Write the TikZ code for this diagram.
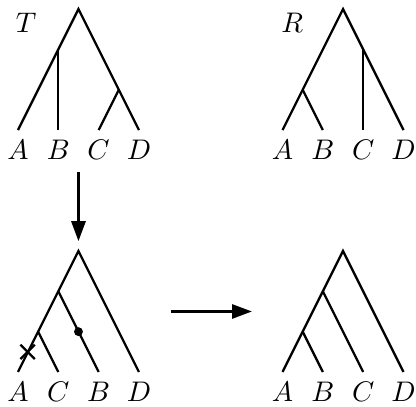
\documentclass[tikz,border=0pt]{standalone}
\usepackage{amsmath, amssymb}
\usetikzlibrary{arrows.meta, shapes.misc}

\begin{document}
\begin{tikzpicture}[line width=0.8pt,
  leaf/.style={below},
  arr/.style={-{Triangle[length=7pt,width=5pt]}}]
\useasboundingbox (-0.223,1.612) rectangle (4.935,-3.422);
%The tree T, top left, with B and the cherry CD
% hanging off the two long edges from the root
\begin{scope}[name prefix=t-]
\coordinate (r) at (0.75,1.5);
\coordinate (ab) at (0.5,1);
\coordinate (cd) at (1.25,0.5);
\node[leaf] (a) at (0,0) {$A$};
\node[leaf] (b) at (0.5,0) {$B$};
\node[leaf] (c) at (1,0) {$C$};
\node[leaf] (d) at (1.5,0) {$D$};
\node (name) at (0.1,1.33) {$T$};
\draw (a.north) -- (r) -- (d.north);
\draw (b.north) -- (ab);
\draw (c.north) -- (cd);
\end{scope}
%The tree R, top right
\begin{scope}[xshift=3.28cm, name prefix=r-]
\coordinate (r) at (0.75,1.5);
\coordinate (ab) at (0.25,0.5);
\coordinate (cd) at (1,1);
\node[leaf] (a) at (0,0) {$A$};
\node[leaf] (b) at (0.5,0) {$B$};
\node[leaf] (c) at (1,0) {$C$};
\node[leaf] (d) at (1.5,0) {$D$};
\node (name) at (0.12,1.33) {$R$};
\draw (a.north) -- (r) -- (d.north);
\draw (b.north) -- (ab);
\draw (c.north) -- (cd);
\end{scope}
%The caterpillar A C B D, bottom left,
% with the cut on A and the point on B
\begin{scope}[yshift=-3cm, name prefix=l-]
\coordinate (r) at (0.75,1.5);
\coordinate (ac) at (0.25,0.5);
\coordinate (acb) at (0.5,1);
\node[leaf] (a) at (0,0) {$A$};
\node[leaf] (c) at (0.5,0) {$C$};
\node[leaf] (b) at (1,0) {$B$};
\node[leaf] (d) at (1.5,0) {$D$};
\draw (a.north) -- (r) -- (d.north);
\draw (c.north) -- (ac);
\draw (b.north) -- (acb);
\node[draw, cross out, minimum size=0.15cm, inner sep=0pt] (cut) at (0.12,0.25) {};
\node[fill, circle, minimum size=0.11cm, inner sep=0pt] (pt) at (0.75,0.5) {};
\end{scope}
%The caterpillar A B C D, bottom right
\begin{scope}[xshift=3.28cm, yshift=-3cm, name prefix=s-]
\coordinate (r) at (0.75,1.5);
\coordinate (ab) at (0.25,0.5);
\coordinate (abc) at (0.5,1);
\node[leaf] (a) at (0,0) {$A$};
\node[leaf] (b) at (0.5,0) {$B$};
\node[leaf] (c) at (1,0) {$C$};
\node[leaf] (d) at (1.5,0) {$D$};
\draw (a.north) -- (r) -- (d.north);
\draw (b.north) -- (ab);
\draw (c.north) -- (abc);
\end{scope}
\coordinate (down) at (0.75,-0.52);
\coordinate (from) at (1.9,-2.25);
\coordinate (to) at (2.9,-2.25);
\draw[arr, shorten >=3.5pt] (down) -- (l-r);
\draw[arr] (from) -- (to);
\end{tikzpicture}
\end{document}
